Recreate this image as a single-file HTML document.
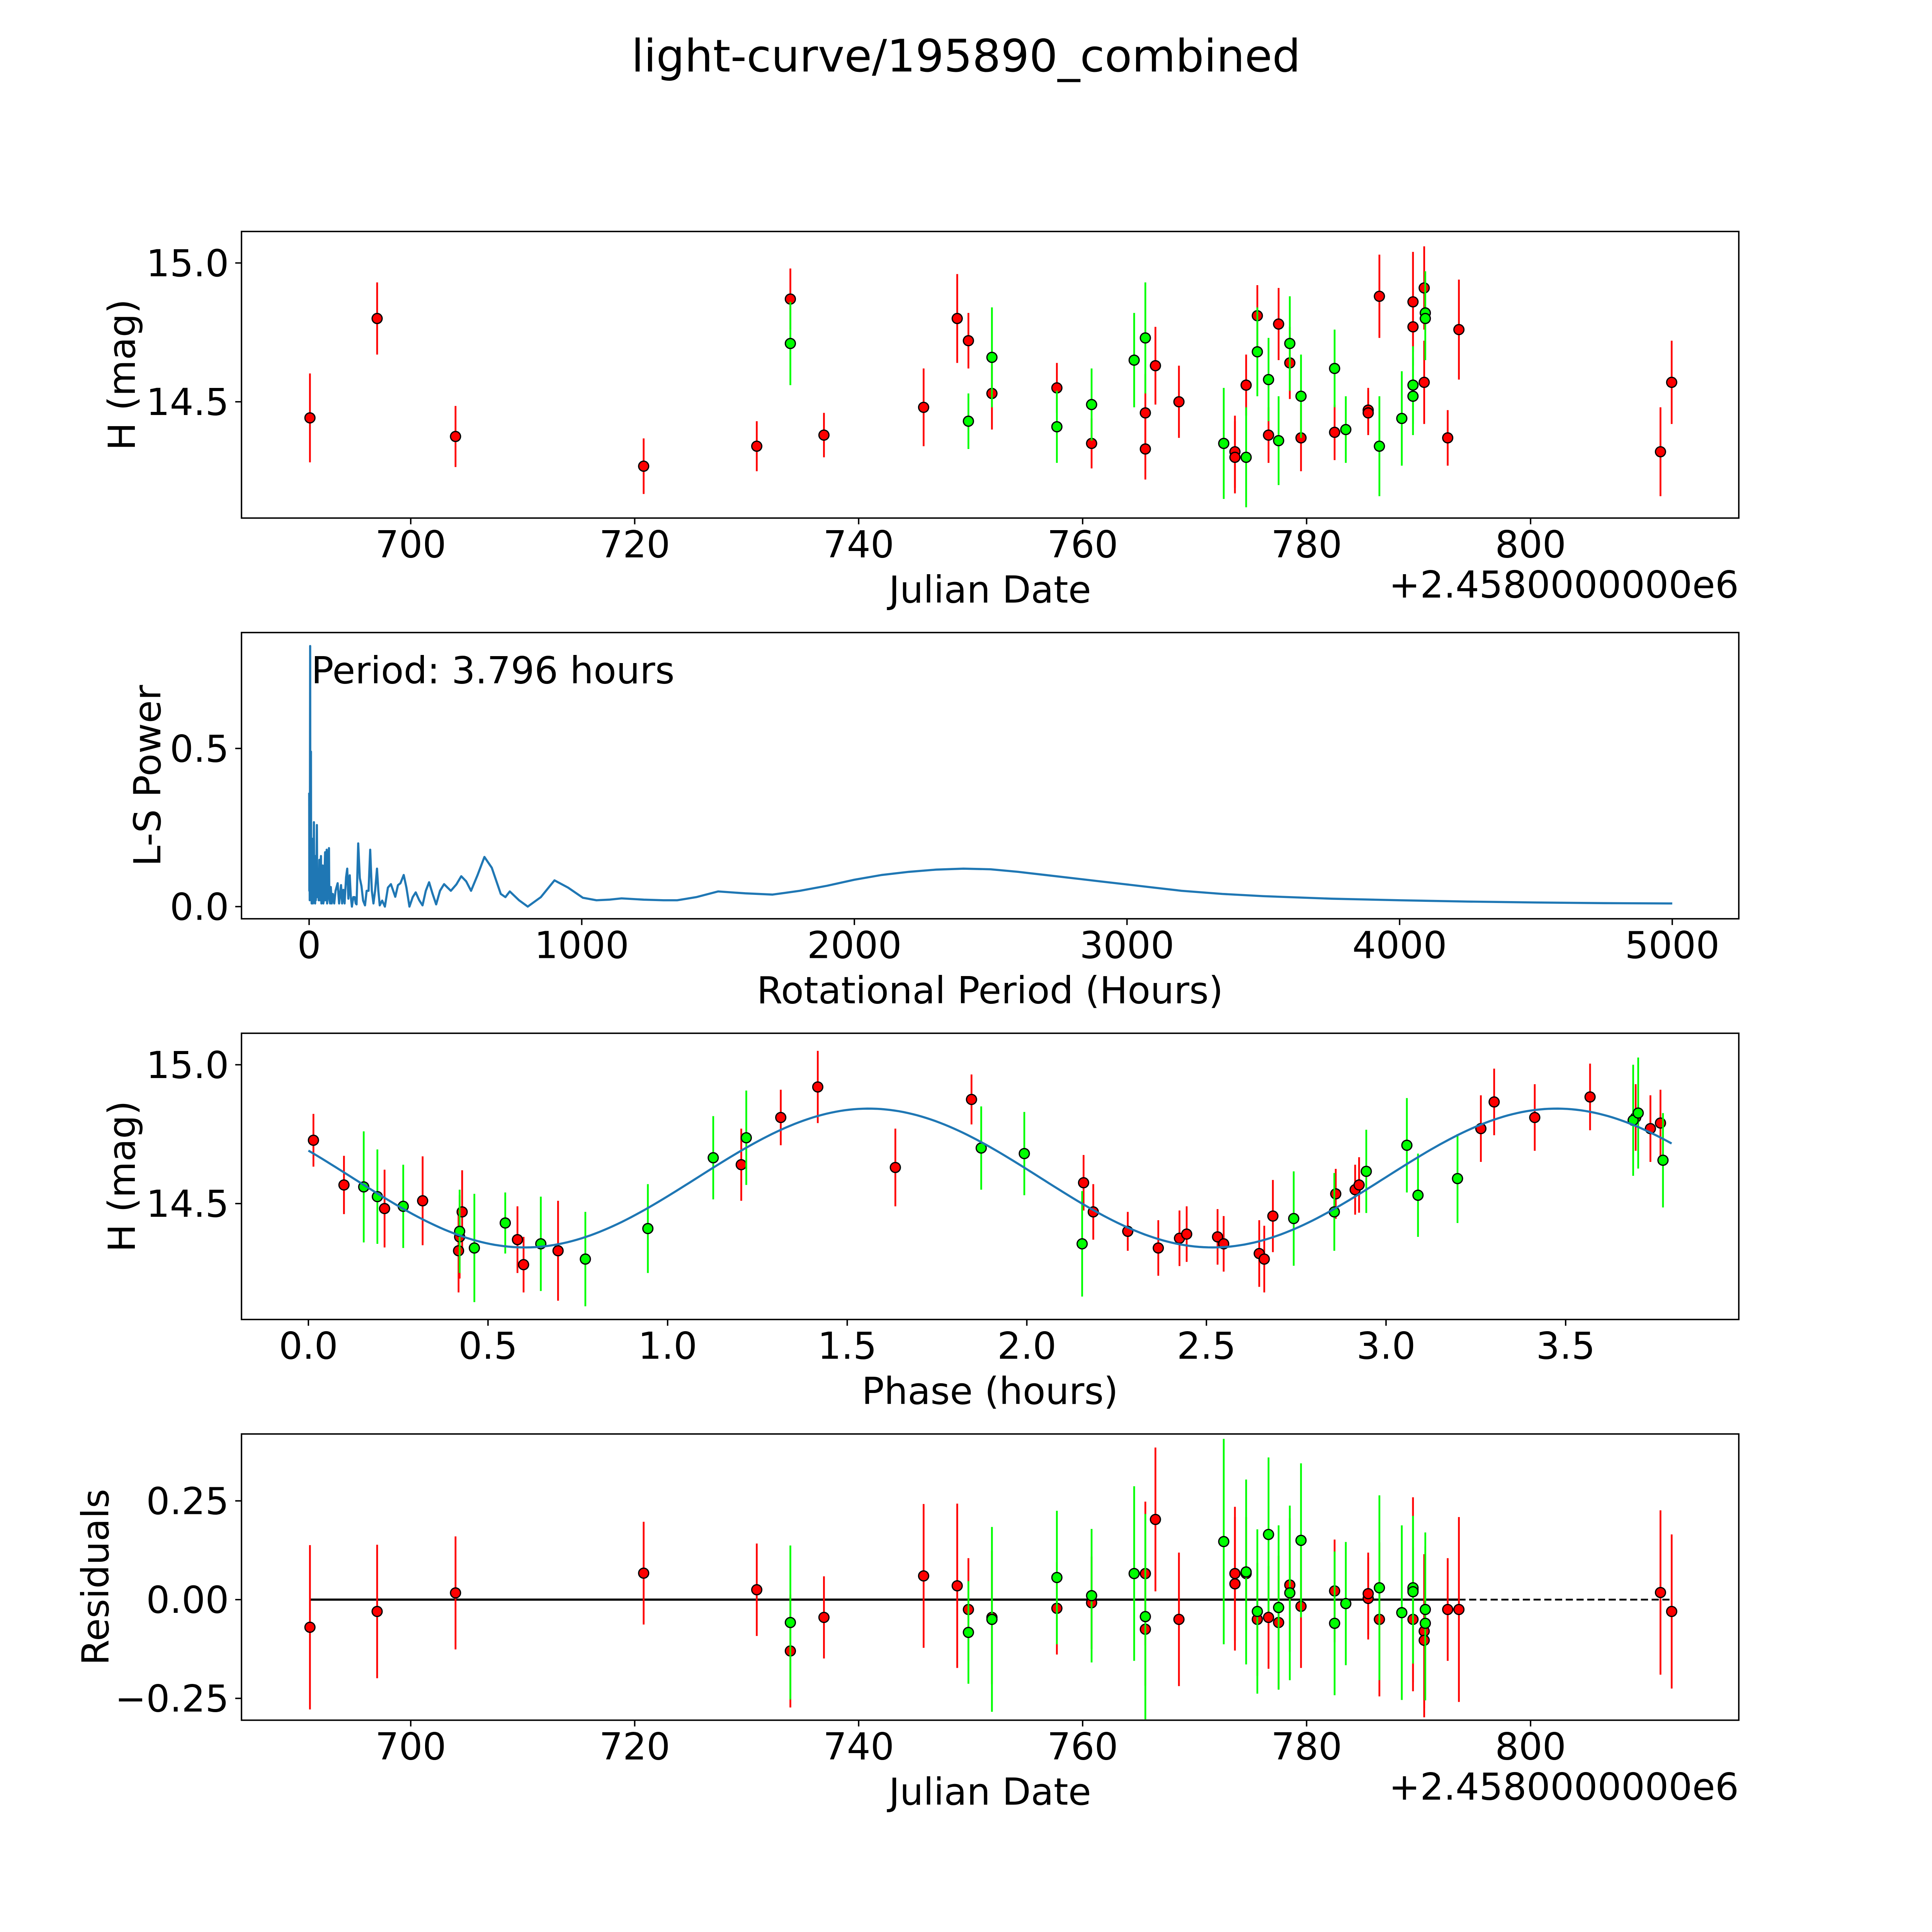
<!DOCTYPE html>
<html><head><meta charset="utf-8"><title>light-curve/195890_combined</title>
<style>html,body{margin:0;padding:0;background:#fff;overflow:hidden;width:100%;height:100%}svg{display:block;width:100vw;height:100vh}text{font-family:"DejaVu Sans","Liberation Sans",sans-serif;fill:#000}</style>
</head><body>
<svg id="fig" xmlns="http://www.w3.org/2000/svg" viewBox="0 0 5400 5400" preserveAspectRatio="none">
<rect width="5400" height="5400" fill="#fff"/>
<text x="2700" y="200" font-size="125" text-anchor="middle">light-curve/195890_combined</text>
<g id="root"></g>
</svg>
<script>
// ---------- Panel 1: light curve (Julian Date) ----------
const redJD=[691.0,697.0,704.0,720.8,730.9,733.9,736.9,745.8,748.8,749.8,751.9,757.7,760.8,765.6,765.6,766.5,768.6,773.6,773.6,774.6,775.6,776.6,777.5,778.5,779.5,782.5,785.5,785.5,786.5,789.5,789.5,790.5,790.5,792.6,793.6,811.6,812.6];
const redMag=[14.442,14.80,14.375,14.268,14.34,14.87,14.38,14.48,14.80,14.72,14.53,14.55,14.35,14.46,14.33,14.63,14.50,14.32,14.30,14.56,14.81,14.38,14.78,14.64,14.37,14.39,14.47,14.46,14.88,14.86,14.77,14.91,14.57,14.37,14.76,14.32,14.57];
const redErr=[0.16,0.13,0.11,0.10,0.09,0.11,0.08,0.14,0.16,0.10,0.13,0.09,0.09,0.14,0.11,0.14,0.13,0.13,0.13,0.11,0.11,0.10,0.13,0.13,0.12,0.10,0.08,0.08,0.15,0.18,0.14,0.15,0.15,0.10,0.18,0.16,0.15];
const greenJD=[733.9,749.8,751.9,757.7,760.8,764.6,765.6,772.6,774.6,775.6,776.6,777.5,778.5,779.5,782.5,783.5,786.5,788.5,789.5,789.5,790.6,790.6];
const greenMag=[14.71,14.43,14.66,14.41,14.49,14.65,14.73,14.35,14.30,14.68,14.58,14.36,14.71,14.52,14.62,14.40,14.34,14.44,14.56,14.52,14.82,14.80];
const greenErr=[0.15,0.10,0.18,0.13,0.13,0.17,0.20,0.20,0.18,0.16,0.15,0.16,0.17,0.15,0.14,0.12,0.18,0.17,0.14,0.14,0.15,0.15];
const jdTicks=[700,720,740,760,780,800];
const magTicks=[14.5,15.0];

// ---------- Panel 2: periodogram ----------
const periodHours=[0.3,0.8,1.5,2.2,3.0,3.8,4.5,5.2,6.0,6.7,7.5,8.3,9.2,10,11,12,13,14,15,16,17.6,19,20,21,22,23.4,24.5,26,27,28.5,30,31,32,33.5,35,36,37,37.7,39,40,42,43.5,45,46,48,50,52,54,56,58.6,60,61,62.5,64.4,66,67,70,72.8,74,75,77,79.5,83,87,92,97,104.6,110,117,121,125.5,130,135.6,139.7,144,149,153,157,162,167,171,174,180,186,192,198,205,211,218,224,230,236,242,249,254,259,268,278,289,300,316,326,335,347,357,368,380,391,404,416,428,440,453,466,480,495,508,520,540,558,576,594,618,643,670,703,720,736,770,802,850,900,950,1004,1054,1100,1146,1228,1300,1350,1420,1500,1600,1700,1800,1900,2000,2100,2200,2300,2400,2500,2600,2700,2800,2900,3000,3100,3200,3350,3500,3750,4000,4250,4500,4750,5000];
const power=[0.36,0.05,0.25,0.02,0.30,0.824,0.10,0.33,0.04,0.49,0.03,0.10,0.01,0.215,0.02,0.05,0.20,0.01,0.12,0.02,0.267,0.03,0.05,0.14,0.01,0.16,0.02,0.05,0.11,0.258,0.03,0.03,0.09,0.117,0.02,0.04,0.10,0.148,0.02,0.03,0.09,0.16,0.01,0.03,0.08,0.13,0.01,0.02,0.09,0.172,0.02,0.03,0.10,0.18,0.01,0.03,0.12,0.185,0.03,0.02,0.01,0.062,0.01,0.04,0.01,0.05,0.074,0.01,0.068,0.01,0.053,0.01,0.093,0.12,0.025,0.099,0.03,0.0,0.03,0.03,0.01,0.007,0.2,0.09,0.065,0.019,0.004,0.05,0.05,0.18,0.05,0.01,0.05,0.12,0.05,0.004,0.019,0.0,0.06,0.071,0.031,0.068,0.074,0.10,0.06,0.0,0.03,0.045,0.02,0.004,0.05,0.077,0.04,0.007,0.05,0.071,0.06,0.05,0.07,0.096,0.08,0.05,0.10,0.157,0.123,0.04,0.03,0.048,0.02,0.0,0.03,0.083,0.06,0.028,0.02,0.022,0.026,0.022,0.02,0.02,0.03,0.048,0.042,0.038,0.05,0.066,0.085,0.10,0.11,0.117,0.12,0.118,0.11,0.10,0.09,0.08,0.07,0.06,0.05,0.04,0.033,0.025,0.02,0.016,0.013,0.011,0.01];
const periodTicks=[0,1000,2000,3000,4000,5000];
const powerTicks=[0.0,0.5];
const periodLabel=["Period: 3.796 hours"];

// ---------- Panel 3: phase-folded ----------
const redPhase=[0.014,0.099,0.212,0.318,0.418,0.421,0.428,0.582,0.599,0.695,1.205,1.315,1.418,1.634,1.846,2.158,2.185,2.281,2.366,2.425,2.445,2.531,2.548,2.647,2.661,2.685,2.860,2.914,2.925,3.264,3.301,3.414,3.568,3.695,3.736,3.764];
const redPhaseMag=[14.728,14.567,14.482,14.51,14.33,14.38,14.47,14.37,14.28,14.33,14.64,14.81,14.92,14.63,14.875,14.575,14.47,14.40,14.34,14.375,14.39,14.38,14.355,14.32,14.30,14.455,14.535,14.55,14.567,14.77,14.866,14.81,14.884,14.81,14.77,14.79];
const redPhaseErr=[0.095,0.105,0.14,0.16,0.15,0.15,0.15,0.12,0.10,0.18,0.13,0.10,0.13,0.14,0.09,0.10,0.10,0.07,0.10,0.10,0.10,0.10,0.10,0.12,0.12,0.13,0.09,0.09,0.10,0.12,0.12,0.12,0.12,0.12,0.12,0.12];
const greenPhase=[0.154,0.192,0.264,0.421,0.462,0.548,0.647,0.771,0.945,1.127,1.219,1.873,1.993,2.154,2.743,2.856,2.945,3.058,3.089,3.199,3.688,3.702,3.771];
const greenPhaseMag=[14.56,14.525,14.49,14.40,14.34,14.43,14.355,14.30,14.41,14.665,14.737,14.70,14.68,14.355,14.446,14.47,14.616,14.71,14.53,14.59,14.80,14.826,14.656];
const greenPhaseErr=[0.20,0.17,0.15,0.15,0.195,0.11,0.17,0.17,0.16,0.15,0.17,0.15,0.15,0.19,0.17,0.14,0.15,0.17,0.15,0.16,0.20,0.20,0.17];
const modelMean=[14.592];
const modelAmp=[0.25];
const modelPeakPhase=[1.56];
const modelHalfPeriod=[1.915];
const modelEndPhase=[3.795];
const phaseTicks=[0.0,0.5,1.0,1.5,2.0,2.5,3.0,3.5];

// ---------- Panel 4: residuals ----------
const redResid=[-0.07,-0.03,0.017,0.067,0.025,-0.13,-0.045,0.06,0.035,-0.025,-0.045,-0.022,-0.008,0.066,-0.075,0.203,-0.05,0.066,0.04,0.066,-0.05,-0.045,-0.058,0.037,-0.017,0.022,0.003,0.015,-0.05,0.025,-0.05,-0.08,-0.103,-0.025,-0.025,0.018,-0.03];
const greenResid=[-0.058,-0.083,-0.05,0.056,0.01,0.066,-0.043,0.147,0.07,-0.03,0.165,-0.02,0.017,0.15,-0.06,-0.01,0.03,-0.033,0.03,0.02,-0.025,-0.06];
const residErrScale=[1.3];
const residTicks=[-0.25,0.0,0.25];
const residTickLabels=["\u22120.25","0.00","0.25"];

const NS="http://www.w3.org/2000/svg";
const root=document.getElementById('root');
function mk(tag,attrs,parent){const e=document.createElementNS(NS,tag);for(const k in attrs)e.setAttribute(k,attrs[k]);(parent||root).appendChild(e);return e;}

const FS=104;
const L=675,R=4860;
const P1={t:647,b:1448}, P2={t:1768,b:2568}, P3={t:2888,b:3688}, P4={t:4008,b:4808};
const xJD=v=>1148+(v-700)*31.3;
const y1=v=>1123-(v-14.5)*776;
const xP=v=>864+v*0.762;
const y2=v=>2534-v*884;
const xPh=v=>862+v*1004;
const y3=v=>3364-(v-14.5)*776;
const y4=v=>4471-v*1104;

function axesFrame(P,name){
  const g=mk('g',{});
  
  
  const cid='clip-'+name;
  const cp=mk('clipPath',{id:cid},g);
  mk('rect',{x:L,y:P.t,width:R-L,height:P.b-P.t},cp);
  const plot=mk('g',{'clip-path':'url(#'+cid+')'},g);
  
  
  return {g,plot};
}
function spines(g,P){
  const r=mk('rect',{x:L,y:P.t,width:R-L,height:P.b-P.t,fill:'none',stroke:'#000','stroke-width':4},g);
  
  
}
function xTicks(g,P,vals,fx,labels){
  vals.forEach((v,i)=>{
    const x=fx(v);
    const t=mk('line',{x1:x,x2:x,y1:P.b,y2:P.b+17.5,stroke:'#000','stroke-width':4},g);
    
    
    const tx=mk('text',{x:x,y:P.b+110,'font-size':FS,'text-anchor':'middle'},g);
    tx.textContent=labels?labels[i]:String(v);
    
    
  });
}
function yTicks(g,vals,fy,labels){
  vals.forEach((v,i)=>{
    const y=fy(v);
    const t=mk('line',{x1:L-17.5,x2:L,y1:y,y2:y,stroke:'#000','stroke-width':4},g);
    
    
    const tx=mk('text',{x:L-35,y:y+37,'font-size':FS,'text-anchor':'end'},g);
    tx.textContent=labels[i];
    
    
  });
}
function label(g,x,y,txt,rot,name){
  const t=mk('text',{x:x,y:y,'font-size':FS,'text-anchor':'middle'},g);
  if(rot)t.setAttribute('transform','rotate(-90 '+x+' '+y+')');
  t.textContent=txt;
  
  
}
function errPoints(plot,xs,ys,es,fx,fy,color,name,scale){
  const s=scale||1;
  xs.forEach((xv,i)=>{
    const x=fx(xv);
    const bar=mk('line',{x1:x,x2:x,y1:fy(ys[i]+es[i]*s),y2:fy(ys[i]-es[i]*s),stroke:color,'stroke-width':5},plot);
    
    
  });
  xs.forEach((xv,i)=>{
    const c=mk('circle',{cx:fx(xv),cy:fy(ys[i]),r:14,fill:color,stroke:'#000','stroke-width':3.5},plot);
    
    
  });
}
const fmt1=v=>v.toFixed(1);

// Panel 1
(function(){
  const a=axesFrame(P1,'light-curve-panel');
  errPoints(a.plot,redJD,redMag,redErr,xJD,y1,'#ff0000','red-filter');
  errPoints(a.plot,greenJD,greenMag,greenErr,xJD,y1,'#00ff00','green-filter');
  spines(a.g,P1);
  xTicks(a.g,P1,jdTicks,xJD);
  yTicks(a.g,magTicks,y1,magTicks.map(fmt1));
  label(a.g,2767,1684,'Julian Date',false,'x-axis-title');
  const o=mk('text',{x:R,y:1670,'font-size':FS,'text-anchor':'end'},a.g);
  o.textContent='+2.4580000000e6';
  
  
  label(a.g,377,(P1.t+P1.b)/2,'H (mag)',true,'y-axis-title');
})();

// Panel 2
(function(){
  const a=axesFrame(P2,'periodogram-panel');
  const d=periodHours.map((p,i)=>(i?'L':'M')+xP(p).toFixed(1)+' '+y2(power[i]).toFixed(1)).join(' ');
  const pl=mk('path',{d:d,fill:'none',stroke:'#1f77b4','stroke-width':6,'stroke-linejoin':'round'},a.plot);
  
  
  const t=mk('text',{x:870,y:1910,'font-size':FS},a.g);
  t.textContent=periodLabel[0];
  
  
  spines(a.g,P2);
  xTicks(a.g,P2,periodTicks,xP);
  yTicks(a.g,powerTicks,y2,powerTicks.map(fmt1));
  label(a.g,2767,2804,'Rotational Period (Hours)',false,'x-axis-title');
  label(a.g,448,(P2.t+P2.b)/2,'L-S Power',true,'y-axis-title');
})();

// Panel 3
(function(){
  const a=axesFrame(P3,'phase-panel');
  errPoints(a.plot,redPhase,redPhaseMag,redPhaseErr,xPh,y3,'#ff0000','red-filter');
  errPoints(a.plot,greenPhase,greenPhaseMag,greenPhaseErr,xPh,y3,'#00ff00','green-filter');
  const pts=[];
  for(let i=0;i<=300;i++){
    const ph=modelEndPhase[0]*i/300;
    const m=modelMean[0]+modelAmp[0]*Math.cos(2*Math.PI*(ph-modelPeakPhase[0])/modelHalfPeriod[0]);
    pts.push((i?'L':'M')+xPh(ph).toFixed(1)+' '+y3(m).toFixed(1));
  }
  const ml=mk('path',{d:pts.join(' '),fill:'none',stroke:'#1f77b4','stroke-width':6},a.plot);
  
  
  spines(a.g,P3);
  xTicks(a.g,P3,phaseTicks,xPh,phaseTicks.map(fmt1));
  yTicks(a.g,magTicks,y3,magTicks.map(fmt1));
  label(a.g,2767,3924,'Phase (hours)',false,'x-axis-title');
  label(a.g,377,(P3.t+P3.b)/2,'H (mag)',true,'y-axis-title');
})();

// Panel 4
(function(){
  const a=axesFrame(P4,'residuals-panel');
  const allJD=redJD.concat(greenJD);
  const lo=Math.min(...allJD), hi=Math.max(...allJD);
  const dl=mk('line',{x1:xJD(lo),x2:xJD(hi),y1:y4(0),y2:y4(0),stroke:'#000','stroke-width':5,'stroke-dasharray':'20 10'},a.plot);
  
  
  const sl=mk('line',{x1:xJD(lo),x2:xJD(793.6),y1:y4(0),y2:y4(0),stroke:'#000','stroke-width':6},a.plot);
  
  
  errPoints(a.plot,redJD,redResid,redErr,xJD,y4,'#ff0000','red-residual',residErrScale[0]);
  errPoints(a.plot,greenJD,greenResid,greenErr,xJD,y4,'#00ff00','green-residual',residErrScale[0]);
  spines(a.g,P4);
  xTicks(a.g,P4,jdTicks,xJD);
  yTicks(a.g,residTicks,y4,residTickLabels);
  label(a.g,2767,5044,'Julian Date',false,'x-axis-title');
  const o=mk('text',{x:R,y:5030,'font-size':FS,'text-anchor':'end'},a.g);
  o.textContent='+2.4580000000e6';
  
  
  label(a.g,303,(P4.t+P4.b)/2,'Residuals',true,'y-axis-title');
})();
</script>
</body></html>
